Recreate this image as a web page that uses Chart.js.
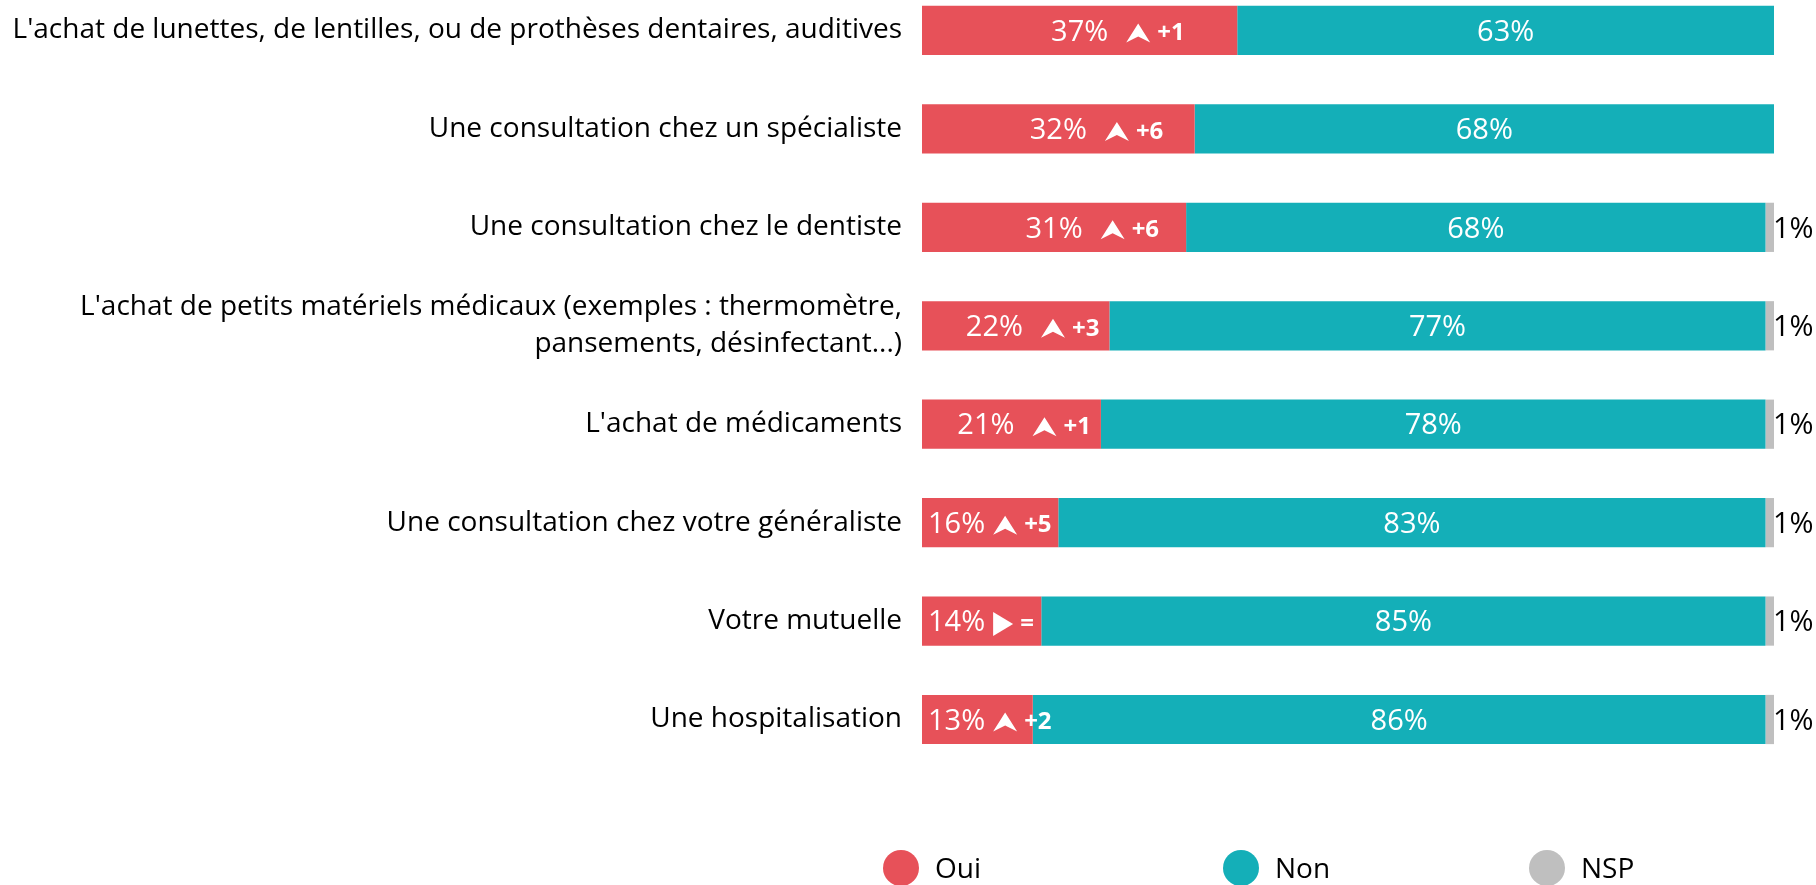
<!DOCTYPE html>
<html lang="fr">
<head>
<meta charset="utf-8">
<script src="https://cdn.jsdelivr.net/npm/chart.js@4.4.1/dist/chart.umd.min.js"></script>
<style>
  html, body { margin: 0; padding: 0; background: #fff; }
  .wrap { position: relative; width: 1816px; height: 885px; }
</style>
</head>
<body>
<div class="wrap"><canvas id="chart"></canvas></div>
<script>
// données
const labels = [
    "L'achat de lunettes, de lentilles, ou de prothèses dentaires, auditives",
    "Une consultation chez un spécialiste",
    "Une consultation chez le dentiste",
    ["L'achat de petits matériels médicaux (exemples : thermomètre,", "pansements, désinfectant...)"],
    "L'achat de médicaments",
    "Une consultation chez votre généraliste",
    "Votre mutuelle",
    "Une hospitalisation"
];
const oui = [37, 32, 31, 22, 21, 16, 14, 13];
const non = [63, 68, 68, 77, 78, 83, 85, 86];
const nsp = [0, 0, 1, 1, 1, 1, 1, 1];
const evolution = ['+1', '+6', '+6', '+3', '+1', '+5', '=', '+2'];
const tendance = ['up', 'up', 'up', 'up', 'up', 'up', 'flat', 'up'];
const seriesNames = ['Oui', 'Non', 'NSP'];
const colors = ['#E75159', '#14AFB8', '#BFBFBF'];

const FONT = '"Open Sans", sans-serif';

// --- icônes de tendance ---
function drawTrend(ctx, kind, x, cy) {
    ctx.beginPath();
    if (kind === 'flat') {
        ctx.moveTo(x, cy - 12);
        ctx.lineTo(x + 20, cy);
        ctx.lineTo(x, cy + 12);
    } else {
        ctx.moveTo(x + 12, cy - 10);
        ctx.lineTo(x + 24, cy + 9);
        ctx.lineTo(x + 12, cy + 3);
        ctx.lineTo(x, cy + 9);
    }
    ctx.closePath();
    ctx.fill();
}

const barLabels = {
    id: 'barLabels',
    afterDatasetsDraw(chart) {
        const ctx = chart.ctx;
        const mOui = chart.getDatasetMeta(0);
        const mNon = chart.getDatasetMeta(1);
        const mNsp = chart.getDatasetMeta(2);
        ctx.save();
        ctx.textBaseline = 'middle';
        oui.forEach((v, i) => {
            const bar = mOui.data[i];
            const cy = bar.y + 2;
            const pct = v + '%';
            ctx.font = '29px ' + FONT;
            const pctW = ctx.measureText(pct).width;
            ctx.font = 'bold 24px ' + FONT;
            const dW = ctx.measureText(evolution[i]).width;
            const iconW = tendance[i] === 'flat' ? 20 : 24;
            let gap1 = 18, gap2 = 7;
            const rest = gap1 + iconW + gap2 + dW;
            let c = Math.min((bar.base + bar.x) / 2, bar.x - 10 - rest - pctW / 2);
            if (c < bar.base + 6 + pctW / 2) { c = bar.base + 6 + pctW / 2; gap1 = 8; }
            ctx.fillStyle = '#fff';
            ctx.textAlign = 'center';
            ctx.font = '29px ' + FONT;
            ctx.fillText(pct, c, cy);
            let x = c + pctW / 2 + gap1;
            drawTrend(ctx, tendance[i], x, cy + 1);
            x += iconW + gap2;
            ctx.textAlign = 'left';
            ctx.font = 'bold 24px ' + FONT;
            ctx.fillText(evolution[i], x, cy + 1);

            const nb = mNon.data[i];
            ctx.textAlign = 'center';
            ctx.font = '29px ' + FONT;
            ctx.fillText(non[i] + '%', (nb.base + nb.x) / 2, cy);

            if (nsp[i] > 0) {
                const gb = mNsp.data[i];
                ctx.fillStyle = '#000';
                ctx.textAlign = 'left';
                ctx.fillText(nsp[i] + '%', gb.x - 1, cy);
            }
        });
        ctx.restore();
    }
};

// légende maison (espacement irrégulier du modèle)
const legendX = [901, 1241, 1547];
const customLegend = {
    id: 'customLegend',
    afterDraw(chart) {
        const ctx = chart.ctx;
        ctx.save();
        ctx.textBaseline = 'middle';
        ctx.textAlign = 'left';
        ctx.font = '28px ' + FONT;
        seriesNames.forEach((name, i) => {
            ctx.fillStyle = colors[i];
            ctx.beginPath();
            ctx.arc(legendX[i], 868, 18, 0, Math.PI * 2);
            ctx.fill();
            ctx.fillStyle = '#000';
            ctx.fillText(name, legendX[i] + 34, 870);
        });
        ctx.restore();
    }
};

new Chart(document.getElementById('chart'), {
    type: 'bar',
    data: {
        labels: labels,
        datasets: [
            { label: seriesNames[0], data: oui, backgroundColor: colors[0], clip: false },
            { label: seriesNames[1], data: non, backgroundColor: colors[1], clip: false },
            { label: seriesNames[2], data: nsp, backgroundColor: colors[2], clip: false }
        ]
    },
    options: {
        indexAxis: 'y',
        responsive: true,
        maintainAspectRatio: false,
        animation: false,
        layout: { padding: { top: 29.5, bottom: 165.5, right: 42, left: 0 } },
        datasets: { bar: { categoryPercentage: 1, barPercentage: 0.5 } },
        scales: {
            x: { stacked: true, min: 0, max: 100, display: false },
            y: {
                stacked: true,
                offset: false,
                grid: { display: false },
                border: { display: false },
                afterFit: scale => { scale.width = 922; },
                ticks: {
                    padding: 12,
                    color: '#000',
                    font: { family: FONT, size: 28, lineHeight: 1.32 }
                }
            }
        },
        plugins: {
            legend: { display: false },
            tooltip: { enabled: false }
        }
    },
    plugins: [barLabels, customLegend]
});
</script>
</body>
</html>
